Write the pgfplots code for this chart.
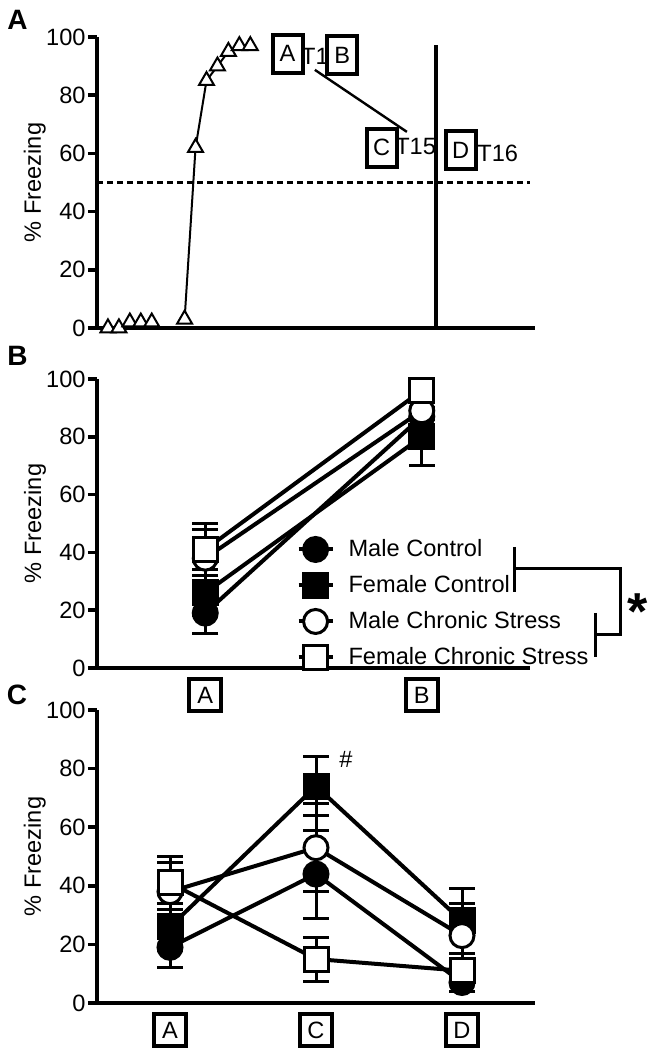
\documentclass[border=0pt]{standalone}
\usepackage{fontspec}
\setmainfont{Liberation Sans}
\usepackage{pgfplots}
\pgfplotsset{compat=1.18}

\newcommand{\fs}{\fontsize{11.8}{14}\selectfont}

\tikzset{lbox/.style={draw, line width=2pt, minimum width=15pt, minimum height=19pt, inner sep=0pt, font=\fs}}

\pgfplotsset{
  panel/.style={
    scale only axis, clip=false,
    axis lines=left, axis line style={-, line width=2pt},
    ymin=0, ymax=100, ytick={0,20,...,100},
    tick align=outside, major tick length=4.5pt,
    ytick style={line width=1.75pt, black},
    xtick style={draw=none},
    yticklabel style={font=\fs, inner sep=1pt},
    xticklabel style={font=\fs, draw, line width=2pt, minimum width=16pt, minimum height=16pt, inner sep=0pt},
    /pgf/number format/assume math mode=true,
    ylabel={\fs\% Freezing},
  },
  grp/.style={black, line width=2pt, mark size=6pt,
    error bars/.cd, y dir=both, y explicit,
    error bar style={line width=1.5pt},
    error mark options={rotate=90, mark size=6.5pt, line width=1.5pt}},
  mc/.style={mark=*, mark options={fill=black, line width=1.5pt, solid}, grp},
  fc/.style={mark=square*, mark options={fill=black, line width=1.5pt, solid}, grp},
  mcs/.style={mark=*, mark options={fill=white, line width=1.5pt, solid}, grp},
  fcs/.style={mark=square*, mark options={fill=white, line width=1.5pt, solid}, grp},
  tri/.style={black, line width=1pt, mark=triangle*, mark size=4.3pt, mark options={fill=white, line width=1pt}},
}

\begin{document}
\begin{tikzpicture}
\useasboundingbox (0,0) rectangle (328.5pt,525pt);

% panel A: acquisition curve
\begin{axis}[panel, at={(48.5pt,361pt)}, anchor=south west,
  width=219pt, height=145.5pt, xmin=0, xmax=40, xtick=\empty,
  ylabel style={at={(axis description cs:-0.142,0.5)}, anchor=center}]
\addplot[black, line width=1.5pt, dash pattern=on 3pt off 2pt] coordinates {(0,50) (39.5,50)};
\addplot[black, line width=2pt] coordinates {(31,0) (31,97.3)};
\addplot[black, line width=1.2pt] coordinates {(19.9,88.7) (28.3,67.4)};
\addplot[tri] coordinates {(1,0) (2,0) (3,2) (4,2) (5,2)};
\addplot[tri] coordinates {(8,3) (9,62) (10,85) (11,90) (12,95) (13,97) (14,97)};
\node[lbox] at (axis cs:17.4,94.3) {A};
\node[font=\fs] at (axis cs:19.9,93.5) {T1};
\node[lbox] at (axis cs:22.4,93.8) {B};
\node[lbox] at (axis cs:26.0,62.0) {C};
\node[font=\fs] at (axis cs:29.1,62.3) {T15};
\node[lbox] at (axis cs:33.2,61.2) {D};
\node[font=\fs] at (axis cs:36.6,60.1) {T16};
\end{axis}

% panel B
\begin{axis}[panel, at={(48.5pt,191pt)}, anchor=south west,
  width=216.5pt, height=144.5pt, xmin=0, xmax=4,
  xtick={1,3}, xticklabels={{\fs A},{\fs B}},
  ylabel style={at={(axis description cs:-0.143,0.5)}, anchor=center},
  legend image code/.code={\draw[mark repeat=2, mark phase=2, #1] plot coordinates {(0pt,0pt) (8.5pt,0pt) (17pt,0pt)};},
  legend cell align=left,
  legend style={draw=none, fill=none, at={(axis cs:1.84,45.3)}, anchor=north west,
    inner sep=0pt, font=\fs, row sep=6pt,
    nodes={inner sep=0pt, text height=9pt, text depth=2pt},
    /tikz/every odd column/.append style={column sep=7pt}}]
\addplot[mc] coordinates {(1,19) +- (0,7) (3,87) +- (0,3)};
\addplot[fc] coordinates {(1,26) +- (0,8) (3,80) +- (0,10)};
\addplot[mcs] coordinates {(1,38) +- (0,10) (3,89) +- (0,3)};
\addplot[fcs] coordinates {(1,41) +- (0,9) (3,96) +- (0,2)};
\legend{Male Control, Female Control, Male Chronic Stress, Female Chronic Stress}
\end{axis}

% panel C
\begin{axis}[panel, at={(48.5pt,23.5pt)}, anchor=south west,
  width=219pt, height=146.5pt, xmin=0.5, xmax=3.5,
  xtick={1,2,3}, xticklabels={{\fs A},{\fs C},{\fs D}},
  ylabel style={at={(axis description cs:-0.142,0.5)}, anchor=center}]
\addplot[mc] coordinates {(1,19) +- (0,7) (2,44) +- (0,15) (3,7) +- (0,3)};
\addplot[fc] coordinates {(1,26) +- (0,8) (2,74) +- (0,10) (3,28) +- (0,11)};
\addplot[mcs] coordinates {(1,38) +- (0,10) (2,53) +- (0,15) (3,23) +- (0,11)};
\addplot[fcs] coordinates {(1,41) +- (0,9) (2,15) +- (0,7.5) (3,11) +- (0,3)};
\node[font=\fs] at (axis cs:2.205,83) {\#};
\end{axis}

% panel letters, bracket (pixel units)
\begin{scope}[x=0.5pt, y=-0.5pt, shift={(0pt,525pt)}]
\node[font=\bfseries\fontsize{14}{16}\selectfont] at (17.5,20) {A};
\node[font=\bfseries\fontsize{14}{16}\selectfont] at (17.5,356) {B};
\node[font=\bfseries\fontsize{14}{16}\selectfont] at (17,695) {C};
\draw[line width=1.5pt] (514,547) -- (514,592);
\draw[line width=1.5pt] (514,569) -- (620,569) -- (620,635) -- (595,635);
\draw[line width=1.5pt] (595,613) -- (595,657);
\node[anchor=base, inner sep=0pt, font=\bfseries\fontsize{26}{28}\selectfont] at (638,630) {*};
\end{scope}
\end{tikzpicture}
\end{document}
